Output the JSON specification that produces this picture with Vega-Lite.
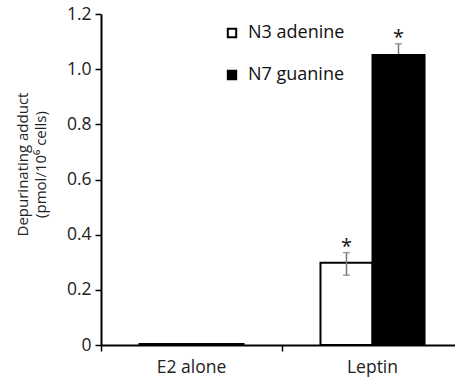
{
  "$schema": "https://vega.github.io/schema/vega-lite/v6.json",
  "autosize": "none",
  "width": 362,
  "height": 331,
  "padding": {"left": 101, "top": 14, "right": 0, "bottom": 34},
  "background": "white",
  "config": {
    "font": "Open Sans",
    "view": {"stroke": null},
    "axis": {"grid": false, "domainColor": "#000", "domainWidth": 2, "tickColor": "#000", "tickWidth": 1.5, "labelColor": "#222", "labelFontSize": 17.5, "labelFont": "Open Sans", "titleFont": "Open Sans", "titleFontWeight": "normal", "titleColor": "#222", "titleFontSize": 15}
  },
  "data": {"values": [
    {"treatment": "E2 alone", "adduct": "N3 adenine", "value": 0.004, "lo": null, "hi": null, "sig": ""},
    {"treatment": "E2 alone", "adduct": "N7 guanine", "value": 0.004, "lo": null, "hi": null, "sig": ""},
    {"treatment": "Leptin", "adduct": "N3 adenine", "value": 0.298, "lo": 0.253, "hi": 0.335, "sig": "*"},
    {"treatment": "Leptin", "adduct": "N7 guanine", "value": 1.051, "lo": 1.01, "hi": 1.092, "sig": "*"}
  ]},
  "encoding": {
    "x": {"field": "treatment", "type": "nominal", "scale": {"domain": ["E2 alone", "Leptin"], "paddingInner": 0, "paddingOuter": 0},
      "axis": {"title": null, "labelAngle": 0, "bandPosition": 0, "ticks": true, "tickSize": 6, "labelPadding": 7, "labelBound": false}},
    "xOffset": {"field": "adduct", "type": "nominal", "scale": {"domain": ["N3 adenine", "N7 guanine"], "paddingInner": 0, "paddingOuter": 0.74}}
  },
  "layer": [
    {
      "transform": [{"filter": "datum.adduct == 'N7 guanine' && datum.lo != null"}],
      "mark": {"type": "rule", "color": "#777", "strokeWidth": 1.5},
      "encoding": {"y": {"field": "lo", "type": "quantitative"}, "y2": {"field": "hi"}}
    },
    {
      "transform": [{"filter": "datum.adduct == 'N7 guanine' && datum.lo != null"}],
      "mark": {"type": "tick", "color": "#777", "thickness": 1.5, "size": 7, "orient": "horizontal"},
      "encoding": {"y": {"field": "hi", "type": "quantitative"}}
    },
    {
      "mark": {"type": "bar", "stroke": "#000", "strokeWidth": 2},
      "encoding": {
        "y": {"field": "value", "type": "quantitative", "scale": {"domain": [0, 1.2]},
          "axis": {"values": [0, 0.2, 0.4, 0.6, 0.8, 1.0, 1.2], "labelExpr": "datum.value == 0 ? '0' : format(datum.value, '.1f')", "tickSize": 6, "labelPadding": 4, "title": ["Depurinating adduct", "(pmol/10⁶ cells)"], "titlePadding": 18, "titleLineHeight": 18, "titleY": 150}},
        "fill": {"field": "adduct", "type": "nominal", "scale": {"domain": ["N3 adenine", "N7 guanine"], "range": ["#ffffff", "#000000"]},
          "legend": {"title": null, "orient": "none", "legendX": 122, "legendY": 10, "symbolType": "square", "symbolSize": 70, "symbolStrokeColor": "#000", "symbolStrokeWidth": 2, "labelFontSize": 18, "labelColor": "#111", "labelOffset": 7, "rowPadding": 24, "labelFont": "Open Sans"}}
      }
    },
    {
      "transform": [{"filter": "datum.adduct == 'N3 adenine' && datum.lo != null"}],
      "mark": {"type": "rule", "color": "#777", "strokeWidth": 1.5},
      "encoding": {"y": {"field": "lo", "type": "quantitative"}, "y2": {"field": "hi"}}
    },
    {
      "transform": [{"filter": "datum.adduct == 'N3 adenine' && datum.lo != null"}, {"fold": ["lo", "hi"], "as": ["k", "v"]}],
      "mark": {"type": "tick", "color": "#777", "thickness": 1.5, "size": 7, "orient": "horizontal"},
      "encoding": {"y": {"field": "v", "type": "quantitative"}}
    },
    {
      "transform": [{"filter": "datum.lo != null"}],
      "mark": {"type": "text", "fontSize": 20, "baseline": "middle", "dy": -6, "color": "#111"},
      "encoding": {"y": {"field": "hi", "type": "quantitative"}, "text": {"field": "sig"}}
    }
  ]
}
